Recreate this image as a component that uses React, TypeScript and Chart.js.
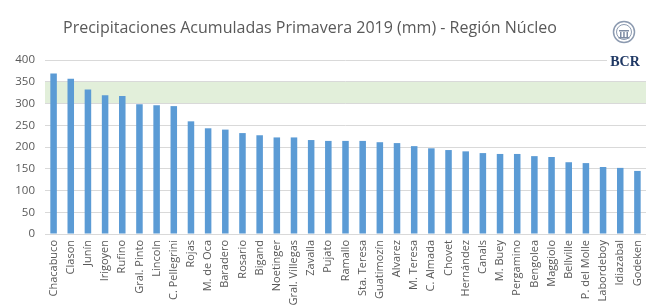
import React, { useEffect, useRef } from "react";
import { Chart, registerables } from "chart.js";

Chart.register(...registerables);

const TITLE = "Precipitaciones Acumuladas Primavera 2019 (mm) - Región Núcleo";

const LOCALITIES = [
  "Chacabuco", "Clason", "Junín", "Irigoyen", "Rufino", "Gral. Pinto", "Lincoln",
  "C. Pellegrini", "Rojas", "M. de Oca", "Baradero", "Rosario", "Bigand", "Noetinger",
  "Gral. Villegas", "Zavalla", "Pujato", "Ramallo", "Sta. Teresa", "Guatimozín",
  "Alvarez", "M. Teresa", "C. Almada", "Chovet", "Hernández", "Canals", "M. Buey",
  "Pergamino", "Bengolea", "Maggiolo", "Bellville", "P. del Molle", "Labordeboy",
  "Idiazabal", "Godeken",
];

const RAINFALL_MM = [
  369, 357, 332, 319, 317, 298, 296, 294, 259, 243, 240, 232, 227, 222,
  222, 216, 214, 214, 214, 211, 209, 202, 197, 193, 190, 186, 184,
  184, 179, 177, 165, 163, 154, 152, 145,
];

const Y_MIN = 0;
const Y_MAX = 400;
const Y_STEP = 50;
const BAND_LOW = 300;
const BAND_HIGH = 350;

const overlayPlugin = {
  id: "overlay",
  beforeDraw(chart: any) {
    const { ctx, chartArea, scales } = chart;
    ctx.save();
    ctx.fillStyle = "#ffffff";
    ctx.fillRect(0, 0, chart.width, chart.height);
    const yTop = scales.y.getPixelForValue(BAND_HIGH);
    const yBot = scales.y.getPixelForValue(BAND_LOW);
    ctx.fillStyle = "#e2efda";
    ctx.fillRect(chartArea.left, yTop, chartArea.right - chartArea.left, yBot - yTop);
    ctx.restore();
  },
  afterDraw(chart: any) {
    const { ctx } = chart;
    ctx.save();
    ctx.fillStyle = "#595959";
    ctx.font = "16px 'Open Sans'";
    ctx.textAlign = "center";
    ctx.textBaseline = "middle";
    ctx.fillText(TITLE, 310, 28);

    // logo
    ctx.fillStyle = "#ffffff";
    ctx.fillRect(607, 14, 39, 58);
    ctx.strokeStyle = "#8c9ab0";
    ctx.lineWidth = 1.5;
    ctx.beginPath();
    ctx.arc(624, 32, 10.5, 0, Math.PI * 2);
    ctx.stroke();
    ctx.lineWidth = 1;
    ctx.beginPath();
    ctx.arc(624, 32, 7.5, 0, Math.PI * 2);
    ctx.stroke();
    ctx.fillStyle = "#7d8ba3";
    ctx.fillRect(619, 30, 10, 1.5);
    ctx.fillRect(620, 32, 1.5, 5);
    ctx.fillRect(623.2, 32, 1.5, 5);
    ctx.fillRect(626.5, 32, 1.5, 5);
    ctx.fillRect(618.5, 37, 11, 1.5);
    ctx.fillStyle = "#1f3864";
    ctx.font = "bold 14px 'Liberation Serif'";
    ctx.fillText("BCR", 625, 62);
    ctx.restore();
  },
};

export default function App() {
  const ref = useRef<HTMLCanvasElement | null>(null);

  useEffect(() => {
    if (!ref.current) return;
    const chart = new Chart(ref.current, {
      type: "bar",
      data: {
        labels: LOCALITIES,
        datasets: [
          {
            data: RAINFALL_MM,
            backgroundColor: "#5b9bd5",
            categoryPercentage: 1,
            barPercentage: 0.38,
          },
        ],
      },
      options: {
        responsive: false,
        animation: false,
        layout: { padding: { top: 60, left: 0, right: 0, bottom: 0 } },
        plugins: {
          legend: { display: false },
          title: { display: false },
          tooltip: { enabled: false },
        },
        scales: {
          x: {
            offset: true,
            grid: { display: false, drawTicks: false },
            border: { display: true, color: "#d9d9d9" },
            ticks: {
              autoSkip: false,
              minRotation: 90,
              maxRotation: 90,
              padding: 6,
              color: "#595959",
              font: { family: "'Open Sans'", size: 11 },
            },
            afterFit(scale: any) {
              scale.height = 72;
              scale.paddingLeft = 0;
              scale.paddingRight = 0;
            },
          },
          y: {
            min: Y_MIN,
            max: Y_MAX,
            grid: { color: "#d9d9d9", drawTicks: false },
            border: { display: false },
            ticks: {
              stepSize: Y_STEP,
              padding: 10,
              color: "#595959",
              font: { family: "'Open Sans'", size: 11.5 },
            },
            afterFit(scale: any) {
              scale.width = 45;
            },
          },
        },
      },
      plugins: [overlayPlugin],
    });
    return () => chart.destroy();
  }, []);

  return (
    <div style={{ position: "fixed", left: 0, top: 0, width: 646, height: 306 }}>
      <canvas ref={ref} width={646} height={306} style={{ display: "block" }} />
    </div>
  );
}
